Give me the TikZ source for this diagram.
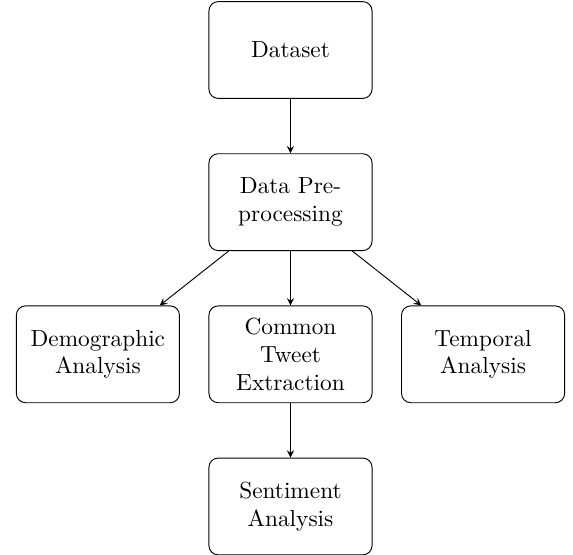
\documentclass[tikz,border=0pt]{standalone}
\usetikzlibrary{positioning, arrows}

\begin{document}
\begin{tikzpicture}[
  stagebox/.style={draw, rectangle, rounded corners, minimum width=2.46cm,
    minimum height=1.46cm, text width=2.2cm, align=center},
  node distance=0.82cm and 0.43cm,
  >=stealth]
\useasboundingbox (-4.38,0.754) rectangle (4.26,-7.60);
\node[stagebox] (data) at (0,0) {Dataset};
\node[stagebox, below=of data] (prep) {Data Pre-processing};
\node[stagebox, below=of prep] (common) {Common Tweet Extraction};
\node[stagebox, left=of common] (demo) {Demographic Analysis};
\node[stagebox, right=of common] (temp) {Temporal Analysis};
\node[stagebox, below=of common] (senti) {Sentiment Analysis};
\draw[->] (data) -- (prep);
\draw[->] (prep) -- (demo);
\draw[->] (prep) -- (common);
\draw[->] (prep) -- (temp);
\draw[->] (common) -- (senti);
\end{tikzpicture}
\end{document}
